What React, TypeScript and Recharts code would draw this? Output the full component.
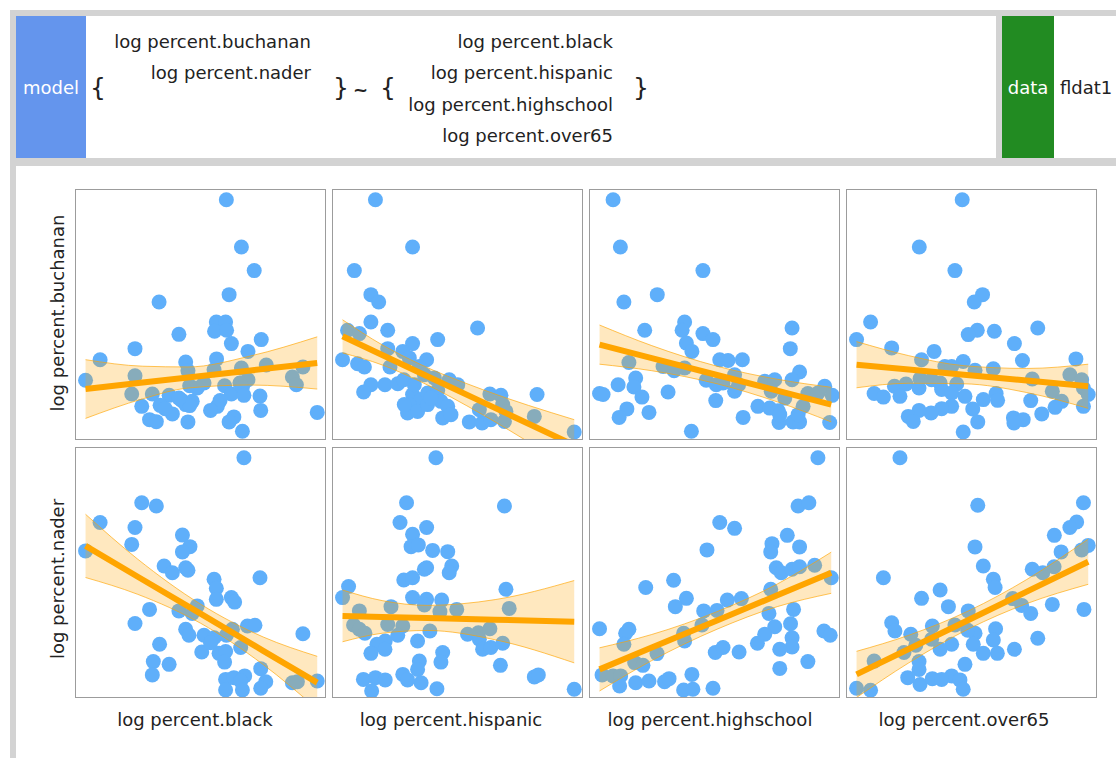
import React from 'react';
import { ComposedChart, Scatter, Area, Line, XAxis, YAxis } from 'recharts';

// response / predictor names
const responses = ['log percent.buchanan', 'log percent.nader'];
const predictors = ['log percent.black', 'log percent.hispanic', 'log percent.highschool', 'log percent.over65'];

type Pt = [number, number];
// [x, fitted, lower, upper]
type FitRow = [number, number, number, number];

const buchananBlack: Pt[] = [
  [60.3, 95.7], [66.3, 76.9], [71.4, 67.5], [61.4, 57.9], [33.5, 55.0], [56.3, 47.0], [60.0, 47.0], [55.6, 43.3],
  [60.4, 43.7], [41.4, 42.1], [62.3, 38.4], [74.2, 40.0], [23.9, 36.4], [10.0, 32.0], [68.9, 35.3], [56.4, 32.3],
  [44.1, 31.1], [76.2, 29.9], [90.8, 29.1], [66.3, 28.7], [55.4, 28.0], [45.0, 27.6], [4.2, 23.8], [23.9, 25.6],
  [86.6, 25.1], [88.2, 22.0], [68.9, 24.0], [65.7, 22.7], [59.6, 21.6], [51.4, 22.7], [45.7, 21.6], [48.7, 20.7],
  [22.6, 18.3], [30.8, 18.3], [37.5, 17.8], [62.3, 18.3], [66.7, 21.0], [67.3, 17.8], [73.7, 17.5], [42.5, 15.8],
  [46.7, 15.4], [44.1, 14.1], [26.6, 13.4], [33.9, 13.8], [57.8, 15.7], [56.7, 13.4], [54.0, 11.8], [45.7, 13.7],
  [38.8, 10.4], [74.0, 11.8], [96.5, 11.0], [29.7, 8.1], [32.4, 7.3], [45.0, 7.2], [63.3, 9.2], [61.4, 7.2],
  [66.7, 3.5], [35.9, 12.5], [41.4, 16.7],
];
const buchananHispanic: Pt[] = [
  [17.3, 95.7], [32.1, 76.9], [8.9, 67.5], [15.5, 57.9], [18.6, 55.0], [15.5, 47.0], [58.0, 44.6], [22.2, 43.7],
  [6.2, 43.7], [10.9, 42.4], [42.1, 40.0], [32.1, 38.4], [4.2, 32.0], [10.2, 30.4], [12.9, 29.1], [22.2, 36.4],
  [28.2, 35.3], [23.1, 29.1], [37.7, 32.0], [34.8, 29.3], [30.8, 32.7], [15.5, 22.0], [12.6, 19.1], [21.1, 22.0],
  [26.2, 22.4], [28.6, 24.0], [36.8, 26.0], [40.8, 24.7], [46.7, 24.0], [50.1, 22.0], [32.1, 18.1], [35.5, 16.1],
  [38.1, 18.7], [42.1, 19.7], [30.8, 14.1], [30.1, 10.8], [34.1, 11.4], [38.1, 14.1], [43.4, 15.4], [46.1, 13.4],
  [44.1, 8.8], [47.4, 10.1], [54.7, 7.2], [59.8, 6.8], [63.3, 8.1], [58.7, 12.1], [62.9, 18.3], [67.3, 17.8],
  [68.0, 14.1], [69.3, 11.4], [68.7, 7.4], [81.7, 18.1], [80.6, 9.4], [96.5, 3.2], [28.8, 14.1], [39.4, 16.7],
  [32.8, 22.0],
];
const buchananHighschool: Pt[] = [
  [9.6, 95.7], [12.5, 76.9], [45.4, 67.5], [13.9, 55.0], [27.2, 57.9], [38.1, 47.0], [37.1, 43.7], [22.2, 43.7],
  [45.4, 42.4], [49.4, 40.0], [38.8, 38.6], [41.0, 35.3], [80.9, 44.6], [80.2, 36.4], [52.1, 32.0], [55.4, 31.7],
  [61.1, 32.0], [15.9, 30.9], [29.5, 29.3], [33.9, 27.6], [38.1, 28.7], [58.0, 26.0], [70.0, 23.4], [74.0, 24.0],
  [83.9, 27.1], [80.9, 24.0], [18.6, 24.7], [11.6, 22.0], [17.9, 21.1], [4.2, 18.5], [5.6, 18.1], [21.1, 17.1],
  [31.5, 19.1], [46.7, 23.8], [50.7, 22.0], [53.4, 22.7], [59.6, 22.0], [58.0, 19.4], [50.5, 15.7], [67.3, 13.4],
  [72.6, 19.4], [78.0, 16.7], [72.0, 12.7], [75.3, 11.7], [87.2, 18.5], [91.2, 18.7], [93.9, 21.4], [96.9, 17.8],
  [85.3, 13.4], [15.1, 12.4], [12.0, 9.0], [23.9, 11.0], [61.4, 9.0], [75.7, 7.0], [81.3, 7.2], [83.9, 7.2],
  [95.9, 7.0], [40.8, 3.5], [76.0, 10.1], [83.3, 10.1],
];
const buchananOver65: Pt[] = [
  [46.3, 95.7], [29.2, 76.9], [43.4, 67.5], [54.4, 57.9], [51.1, 55.0], [9.8, 47.0], [4.2, 40.0], [52.3, 43.7],
  [48.7, 42.0], [59.1, 43.3], [76.4, 44.6], [67.1, 38.4], [18.2, 36.7], [35.1, 35.3], [30.1, 32.0], [70.3, 31.7],
  [91.6, 32.3], [46.7, 31.3], [39.4, 29.3], [42.1, 29.3], [51.4, 27.8], [58.7, 28.4], [29.5, 24.4], [34.1, 24.0],
  [37.5, 22.7], [19.3, 21.4], [23.9, 22.3], [29.1, 20.7], [44.1, 22.3], [74.2, 24.3], [89.2, 26.0], [93.9, 24.0],
  [38.1, 20.1], [42.1, 18.7], [11.2, 18.5], [14.9, 17.1], [21.5, 17.4], [47.4, 17.4], [54.7, 16.1], [59.8, 18.5],
  [60.4, 15.8], [73.6, 15.7], [82.2, 19.4], [85.9, 15.4], [83.3, 13.0], [94.6, 20.7], [96.5, 18.1], [94.6, 13.4],
  [42.1, 13.4], [38.1, 12.5], [33.9, 10.8], [29.1, 11.8], [50.5, 12.4], [24.8, 9.4], [26.8, 7.4], [52.5, 7.2],
  [66.7, 8.8], [70.6, 8.1], [66.9, 6.8], [78.0, 10.4], [46.7, 3.2],
];
const naderBlack: Pt[] = [
  [67.3, 95.7], [26.6, 77.8], [32.4, 76.5], [10.0, 69.9], [23.9, 67.9], [22.6, 61.2], [4.2, 58.6], [42.8, 64.9],
  [45.8, 60.3], [42.8, 58.2], [35.5, 52.6], [38.8, 49.9], [44.1, 51.9], [45.0, 50.9], [73.7, 47.9], [55.4, 47.3],
  [56.3, 43.7], [56.3, 39.3], [62.3, 40.0], [63.6, 38.2], [29.7, 35.3], [23.9, 29.7], [41.4, 34.7], [48.7, 36.7],
  [46.7, 33.7], [44.1, 27.4], [45.4, 25.0], [51.4, 25.0], [55.4, 24.0], [60.3, 25.0], [62.7, 27.4], [68.7, 28.7],
  [71.7, 29.0], [33.7, 21.4], [50.5, 18.3], [57.4, 17.8], [60.0, 18.5], [66.0, 20.1], [31.2, 14.5], [37.5, 13.4],
  [59.6, 14.3], [30.8, 9.2], [74.0, 11.7], [60.0, 7.4], [63.3, 8.1], [67.6, 8.8], [66.0, 6.8], [76.0, 6.5],
  [74.0, 3.9], [60.0, 3.2], [66.7, 3.2], [90.8, 25.6], [86.6, 6.1], [88.6, 6.5], [96.5, 6.8], [54.0, 22.0],
];
const naderHispanic: Pt[] = [
  [41.4, 95.7], [29.7, 77.8], [68.7, 76.5], [27.1, 69.9], [37.7, 67.9], [32.1, 65.2], [31.5, 60.3], [34.4, 61.0],
  [40.1, 58.8], [46.1, 58.3], [47.7, 52.6], [46.7, 49.9], [37.7, 51.9], [36.8, 51.3], [28.6, 47.0], [32.1, 47.9],
  [6.6, 44.4], [4.2, 40.0], [69.3, 43.3], [32.1, 40.0], [37.7, 39.3], [36.8, 37.1], [43.7, 39.0], [43.0, 34.4],
  [49.7, 35.3], [70.6, 35.7], [10.9, 34.7], [23.5, 36.4], [22.2, 29.3], [8.6, 29.1], [10.9, 27.4], [13.1, 25.8],
  [28.2, 28.7], [26.2, 25.0], [39.0, 26.7], [54.0, 25.4], [58.3, 26.0], [62.9, 27.6], [58.7, 23.4], [34.1, 22.7],
  [21.2, 22.7], [17.9, 21.4], [21.1, 19.4], [15.5, 17.8], [60.0, 19.4], [63.3, 20.1], [68.0, 21.8], [44.1, 18.1],
  [43.4, 14.3], [34.8, 14.7], [34.1, 11.4], [67.1, 13.0], [12.5, 7.4], [17.3, 8.1], [21.2, 7.2], [15.8, 2.8],
  [28.2, 9.4], [30.1, 7.2], [35.5, 6.1], [41.8, 3.7], [80.6, 8.4], [82.2, 9.2], [96.5, 3.5],
];
const naderHighschool: Pt[] = [
  [91.2, 95.7], [83.3, 76.5], [87.6, 77.8], [52.1, 69.9], [58.0, 67.6], [79.0, 64.8], [72.9, 61.5], [72.4, 58.2],
  [83.9, 60.2], [47.0, 59.0], [74.6, 51.9], [76.6, 49.9], [80.9, 51.3], [83.9, 52.3], [89.9, 52.9], [96.5, 47.9],
  [22.6, 44.0], [33.7, 46.9], [38.8, 39.7], [34.4, 36.4], [55.1, 39.0], [60.7, 39.6], [72.4, 43.3], [51.0, 34.9],
  [45.7, 34.7], [71.7, 33.7], [81.5, 35.3], [45.0, 29.1], [80.3, 29.6], [74.0, 28.4], [70.0, 25.4], [67.1, 21.8],
  [80.9, 24.0], [80.9, 20.3], [76.0, 19.4], [4.2, 27.6], [15.9, 27.4], [14.6, 25.8], [13.9, 21.4], [37.7, 25.8],
  [38.1, 22.7], [27.1, 17.7], [50.3, 18.1], [53.4, 20.1], [59.8, 18.3], [18.2, 14.1], [21.5, 13.0], [93.6, 26.7],
  [96.1, 25.0], [87.2, 14.5], [76.0, 11.8], [5.2, 9.2], [9.6, 8.8], [12.6, 8.8], [12.2, 4.8], [18.6, 6.1],
  [23.9, 6.8], [30.1, 6.5], [31.9, 7.7], [41.0, 9.4], [37.7, 3.2], [41.4, 3.5], [49.4, 3.9],
];
const naderOver65: Pt[] = [
  [21.5, 95.7], [52.5, 76.8], [94.6, 77.8], [91.9, 70.1], [89.2, 67.9], [83.0, 64.8], [51.4, 60.2], [96.5, 60.8],
  [93.9, 59.0], [85.7, 58.2], [54.7, 52.6], [74.2, 51.3], [78.4, 49.9], [82.9, 52.3], [14.9, 47.9], [58.7, 47.3],
  [59.4, 44.0], [37.5, 43.0], [30.1, 39.7], [40.8, 36.4], [82.2, 37.3], [94.8, 35.3], [48.7, 34.7], [66.4, 39.6],
  [70.0, 36.9], [73.6, 33.7], [18.2, 30.0], [19.5, 26.7], [34.4, 28.7], [25.8, 25.4], [43.4, 29.1], [51.4, 25.8],
  [48.5, 27.0], [59.6, 27.6], [58.7, 23.1], [50.7, 21.4], [54.7, 17.8], [60.3, 17.8], [67.1, 19.4], [76.4, 23.8],
  [42.1, 21.4], [37.5, 19.4], [23.1, 18.1], [27.8, 21.0], [11.2, 14.7], [29.1, 14.5], [29.1, 11.4], [47.4, 13.4],
  [24.6, 8.1], [29.5, 5.4], [34.4, 7.7], [42.1, 8.8], [45.4, 7.2], [46.7, 3.5], [4.2, 3.9], [9.8, 3.1],
  [38.1, 7.4], [34.1, 23.4],
];

// fitted line with its confidence band
const fitBuchananBlack: FitRow[] = [
  [4.2, 20.3, 8.6, 32.0], [27, 22.9, 16.4, 29.4], [45, 24.9, 20.7, 29.1], [70, 27.7, 21.9, 33.5], [96.5, 30.7, 20.3, 41.1],
];
const fitBuchananHispanic: FitRow[] = [
  [4.2, 41.3, 34.7, 47.9], [20, 33.9, 29.9, 37.9], [35, 26.8, 23.4, 30.2], [60, 15.1, 10.1, 20.1], [96.5, -2.1, -12.3, 8.1],
];
const fitBuchananHighschool: FitRow[] = [
  [4.2, 38.0, 30.2, 45.8], [25, 32.6, 27.6, 37.6], [51, 25.9, 22.4, 29.4], [75, 19.7, 15.2, 24.2], [96.5, 14.1, 7.2, 21.0],
];
const fitBuchananOver65: FitRow[] = [
  [4.2, 30.0, 20.8, 39.2], [25, 28.1, 22.6, 33.6], [47, 26.0, 22.4, 29.6], [72, 23.7, 18.9, 28.5], [96.5, 21.4, 12.6, 30.2],
];
const fitNaderBlack: FitRow[] = [
  [4.2, 60.6, 48.0, 73.2], [25, 48.3, 41.3, 55.3], [50, 33.6, 29.8, 37.4], [75, 18.8, 13.3, 24.3], [96.5, 6.1, -4.4, 16.6],
];
const fitNaderHispanic: FitRow[] = [
  [4.2, 32.7, 22.4, 43.0], [20, 32.3, 25.8, 38.8], [38, 31.9, 26.9, 36.9], [65, 31.2, 23.2, 39.2], [96.5, 30.4, 14.0, 46.8],
];
const fitNaderHighschool: FitRow[] = [
  [4.2, 11.4, 2.8, 20.0], [25, 20.1, 14.9, 25.3], [51, 30.9, 27.4, 34.4], [75, 40.9, 36.4, 45.4], [96.5, 49.9, 41.7, 58.1],
];
const fitNaderOver65: FitRow[] = [
  [4.2, 9.4, 0.2, 18.6], [25, 19.5, 14.0, 25.0], [49, 31.2, 27.6, 34.8], [72, 42.4, 37.6, 47.2], [96.5, 54.3, 45.3, 63.3],
];

const points: Pt[][][] = [
  [buchananBlack, buchananHispanic, buchananHighschool, buchananOver65],
  [naderBlack, naderHispanic, naderHighschool, naderOver65],
];
const fits: FitRow[][][] = [
  [fitBuchananBlack, fitBuchananHispanic, fitBuchananHighschool, fitBuchananOver65],
  [fitNaderBlack, fitNaderHispanic, fitNaderHighschool, fitNaderOver65],
];

const DOT = '#5FAFFA';
const ORANGE = '#FFA500';
const FRAME = '#d3d3d3';
const SIZE = 251;
const colLeft = [75, 332, 589, 846];
const rowTop = [189, 447];
const FONT = '"DejaVu Sans", sans-serif';
const NO_MARGIN = { top: 0, right: 0, bottom: 0, left: 0 };

const Dot = (props: any) => <circle cx={props.cx} cy={props.cy} r={7.5} fill={DOT} />;

// shared 0..100 frame for both layers of a panel
const axes = [
  <XAxis key="x" type="number" dataKey="x" domain={[0, 100]} hide allowDataOverflow />,
  <YAxis key="y" type="number" domain={[0, 100]} hide allowDataOverflow />,
];

function Panel({ pts, fit }: { pts: Pt[]; fit: FitRow[] }) {
  const scatterData = pts.map(([x, y]) => ({ x, y }));
  const rows = fit.map(([x, f, lo, hi]) => ({ x, fit: f, band: [lo, hi] }));
  return (
    <div style={{ position: 'relative', width: SIZE, height: SIZE }}>
      {/* points underneath */}
      <div style={{ position: 'absolute', left: 0, top: 0 }}>
        <ComposedChart width={SIZE} height={SIZE} margin={NO_MARGIN}>
          {axes}
          <Scatter data={scatterData} dataKey="y" shape={Dot} isAnimationActive={false} />
        </ComposedChart>
      </div>
      {/* band and fit drawn over the points */}
      <div style={{ position: 'absolute', left: 0, top: 0 }}>
        <ComposedChart width={SIZE} height={SIZE} data={rows} margin={NO_MARGIN}>
          {axes}
          <Area
            dataKey="band"
            type="monotone"
            fill={ORANGE}
            fillOpacity={0.25}
            stroke={ORANGE}
            strokeOpacity={0.65}
            strokeWidth={1}
            dot={false}
            activeDot={false}
            isAnimationActive={false}
          />
          <Line
            dataKey="fit"
            type="linear"
            stroke={ORANGE}
            strokeWidth={6}
            dot={false}
            activeDot={false}
            isAnimationActive={false}
          />
        </ComposedChart>
      </div>
      <div
        style={{
          position: 'absolute',
          inset: 0,
          border: '1.5px solid #9c9c9c',
          pointerEvents: 'none',
        }}
      />
    </div>
  );
}

const txt = (s: string, style: React.CSSProperties, key?: string) => (
  <div key={key} style={{ position: 'absolute', whiteSpace: 'nowrap', lineHeight: '20px', ...style }}>
    {s}
  </div>
);

export default function App() {
  const lhs = responses;
  const rhs = predictors;
  return (
    <div
      style={{
        position: 'absolute',
        left: 0,
        top: 0,
        width: 1116,
        height: 758,
        background: '#fff',
        overflow: 'hidden',
        fontFamily: FONT,
        fontSize: 18,
        color: '#222',
      }}
    >
      {/* frame */}
      <div style={{ position: 'absolute', left: 10, top: 10, width: 1106, height: 6, background: FRAME }} />
      <div style={{ position: 'absolute', left: 10, top: 10, width: 6, height: 748, background: FRAME }} />
      <div style={{ position: 'absolute', left: 16, top: 158, width: 1100, height: 8, background: FRAME }} />
      <div style={{ position: 'absolute', left: 996, top: 16, width: 6, height: 142, background: FRAME }} />

      {/* model box */}
      <div style={{ position: 'absolute', left: 16, top: 16, width: 70, height: 142, background: '#6495ED' }} />
      {txt('model', { left: 16, width: 70, textAlign: 'center', top: 78, color: '#fff' })}
      {txt('{', { left: 90, top: 75, fontSize: 25, lineHeight: '26px' })}
      {lhs.map((s, i) => txt(s, { right: 1116 - 311, top: 32 + i * 30.5 }, 'l' + i))}
      {txt('}', { left: 333, top: 75, fontSize: 25, lineHeight: '26px' })}
      {txt('~', { left: 353, top: 80, fontWeight: 'bold' })}
      {txt('{', { left: 380, top: 75, fontSize: 25, lineHeight: '26px' })}
      {rhs.map((s, i) => txt(s, { right: 1116 - 613, top: 32 + i * 31.3 }, 'r' + i))}
      {txt('}', { left: 633, top: 75, fontSize: 25, lineHeight: '26px' })}

      {/* data box */}
      <div style={{ position: 'absolute', left: 1002, top: 16, width: 52, height: 142, background: '#228B22' }} />
      {txt('data', { left: 1002, width: 52, textAlign: 'center', top: 78, color: '#fff' })}
      {txt('fldat1', { left: 1060, top: 78 })}

      {/* scatter matrix */}
      {rowTop.map((top, r) =>
        colLeft.map((left, c) => (
          <div key={`${r}-${c}`} style={{ position: 'absolute', left, top }}>
            <Panel pts={points[r][c]} fit={fits[r][c]} />
          </div>
        ))
      )}
      {responses.map((s, r) => (
        <div
          key={s}
          style={{
            position: 'absolute',
            left: 58,
            top: [313, 579][r],
            transform: 'translate(-50%, -50%) rotate(-90deg)',
            whiteSpace: 'nowrap',
            lineHeight: '20px',
          }}
        >
          {s}
        </div>
      ))}
      {predictors.map((s, c) => (
        <div
          key={s}
          style={{
            position: 'absolute',
            left: [195, 451, 710, 964][c],
            top: 720,
            transform: 'translate(-50%, -50%)',
            whiteSpace: 'nowrap',
            lineHeight: '20px',
          }}
        >
          {s}
        </div>
      ))}
    </div>
  );
}
